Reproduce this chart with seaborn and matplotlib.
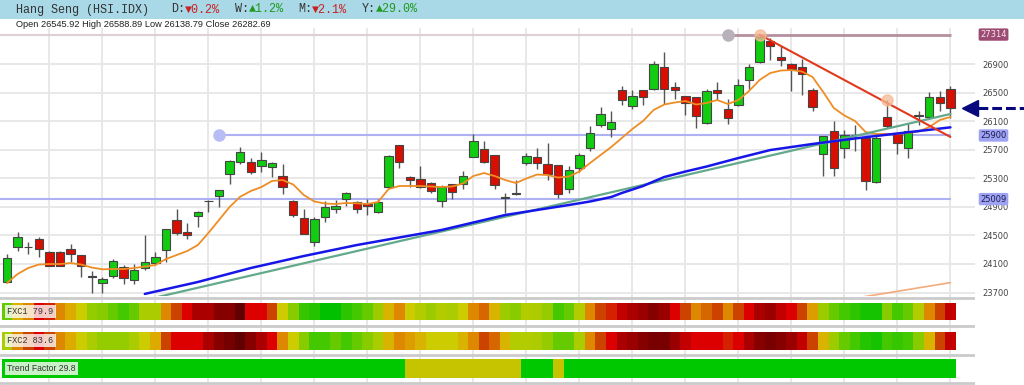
import numpy as np
import matplotlib
matplotlib.use("Agg")
import matplotlib.pyplot as plt
import seaborn as sns
from matplotlib.colors import LinearSegmentedColormap, ListedColormap
from matplotlib.transforms import blended_transform_factory

# ---------------- data ----------------
opens = [23851, 24342, 24342, 24450, 24268, 24268, 24305, 24225, 23925, 23829,
         23935, 24057, 23875, 24039, 24109, 24296, 24716, 24548, 24772, 24986,
         25048, 25356, 25528, 25528, 25472, 25463, 25336, 24986, 24748, 24408,
         24754, 24870, 25006, 24972, 24936, 24832, 25182, 25767, 25314, 25297,
         25241, 24982, 25216, 25220, 25603, 25710, 25626, 25042, 25090, 25510,
         25594, 25496, 25486, 25146, 25440, 25724, 26051, 25995, 26533, 26309,
         26533, 26551, 26859, 26575, 26449, 26435, 26075, 26541, 26275, 26323,
         26681, 26925, 27219, 26999, 26906, 26859, 26533, 25645, 25967, 25724,
         25905, 25865, 25248, 26159, 25935, 25724, 26178, 26159, 26439, 26545.92]
highs = [24235, 24543, 24412, 24473, 24275, 24280, 24375, 24230, 24006, 23921,
         24165, 24085, 24095, 24506, 24272, 24590, 24870, 24678, 24840, 24996,
         25140, 25550, 25743, 25580, 25664, 25525, 25496, 24990, 24866, 24758,
         24982, 24996, 25112, 24978, 25006, 25010, 25620, 25772, 25332, 25472,
         25252, 25206, 25222, 25406, 25921, 25827, 25630, 25090, 25276, 25650,
         25720, 25790, 25490, 25472, 25654, 26028, 26295, 26247, 26589, 26533,
         26540, 26939, 27065, 26649, 26455, 26440, 26555, 26649, 26415, 26695,
         26901, 27314, 27266, 27149, 26912, 26976, 26565, 25895, 26099, 25981,
         26051, 25870, 25888, 26401, 25940, 26075, 26247, 26505, 26519, 26588.89]
lows = [23833, 24286, 24239, 24197, 24070, 24070, 24132, 23921, 23697, 23697,
        23899, 23819, 23819, 24015, 24085, 24132, 24506, 24445, 24622, 24832,
        24902, 25220, 25496, 25356, 25393, 25322, 25080, 24754, 24515, 24352,
        24692, 24810, 24912, 24810, 24786, 24814, 25178, 25440, 25174, 25160,
        25090, 24894, 25006, 25146, 25594, 25510, 25146, 24810, 25066, 25486,
        25426, 25276, 25020, 25090, 25388, 25678, 26015, 25874, 26331, 26275,
        26331, 26541, 26341, 26415, 26183, 26005, 26065, 26401, 26065, 26309,
        26551, 26915, 26962, 26869, 26519, 26471, 26239, 25336, 25328, 25584,
        25678, 25140, 25240, 26005, 25645, 25584, 26051, 26145, 26239, 26138.79]
closes = [24179, 24473, 24335, 24305, 24076, 24076, 24235, 24076, 23918, 23885,
          24146, 23899, 24015, 24132, 24197, 24585, 24538, 24506, 24832, 24980,
          25132, 25542, 25664, 25393, 25561, 25519, 25182, 24782, 24520, 24730,
          24902, 24916, 25090, 24870, 24912, 24972, 25612, 25533, 25276, 25185,
          25122, 25174, 25112, 25336, 25827, 25533, 25206, 25020, 25084, 25612,
          25510, 25356, 25076, 25416, 25626, 25935, 26201, 26089, 26393, 26449,
          26439, 26906, 26551, 26541, 26355, 26169, 26519, 26495, 26145, 26611,
          26855, 27280, 27149, 26962, 26836, 26761, 26299, 25888, 25444, 25902,
          25900, 25266, 25865, 26037, 25795, 25967, 26176, 26439, 26355, 26282.69]

ma_fast = [23833, 23959, 24043, 24092, 24099, 24099, 24113, 24092, 24050, 24025,
           24029, 24029, 24043, 24064, 24085, 24169, 24225, 24281, 24365, 24534,
           24716, 24898, 25042, 25122, 25178, 25262, 25276, 25213, 25066, 24975,
           24947, 24940, 24954, 24950, 24940, 24968, 25150, 25192, 25192, 25192,
           25185, 25178, 25185, 25227, 25332, 25374, 25332, 25276, 25234, 25297,
           25353, 25346, 25311, 25325, 25395, 25514, 25626, 25738, 25865, 25991,
           26103, 26257, 26334, 26362, 26383, 26334, 26355, 26397, 26341, 26397,
           26523, 26677, 26775, 26810, 26817, 26796, 26719, 26509, 26285, 26180,
           26103, 25949, 25921, 25921, 25921, 25935, 25956, 26019, 26117, 26159]

ma_slow_idx = [13, 18, 23, 28, 33, 41, 47, 50, 53, 55, 57, 58, 60, 62, 64, 66, 69, 72,
               76, 80, 84, 89]
ma_slow = [23680, 23847, 24043, 24211, 24365, 24576, 24786, 24856, 24926, 24975,
           25038, 25094, 25192, 25318, 25395, 25465, 25584, 25696, 25781, 25858,
           25928, 26014]

trend_idx = [13, 89]
trend_vals = [23595, 26201]
lower_idx = [80, 89]
lower_vals = [23620, 23838]
resist_idx = [71, 89]
resist_vals = [27314, 25880]
touch_idx = [71, 83]

level_top, level_top_from = 27314, 68
level_mid, level_mid_from = 25900, 20
level_low = 25009

yticks = [23700, 24100, 24500, 24900, 25300, 25700, 26100, 26500, 26900]

fxc1 = [20, 45, 55, 75, 70, 55, 47, 40, 28, 25, 20, 15, 20, 33, 33, 55, 65, 75, 85, 85,
        92, 92, 100, 75, 75, 65, 40, 25, 12, 8, 0, 0, 10, 15, 20, 30, 45, 55, 40, 35,
        30, 35, 33, 40, 55, 60, 45, 30, 25, 35, 33, 28, 15, 20, 35, 55, 65, 70, 80, 85,
        88, 92, 88, 75, 65, 55, 60, 65, 55, 65, 75, 85, 88, 80, 75, 65, 50, 30, 20, 15,
        10, 5, 5, 25, 15, 20, 35, 55, 65, 80]
fxc2 = [33, 55, 65, 75, 65, 55, 47, 40, 33, 28, 28, 28, 33, 40, 47, 65, 75, 75, 75, 85,
        92, 96, 100, 92, 85, 75, 55, 40, 25, 15, 15, 20, 15, 20, 25, 33, 45, 55, 50, 45,
        40, 40, 40, 45, 55, 65, 60, 45, 35, 35, 33, 28, 20, 20, 33, 55, 65, 75, 85, 88,
        92, 95, 95, 88, 80, 75, 75, 75, 70, 75, 85, 92, 95, 92, 88, 80, 65, 45, 30, 20,
        15, 8, 5, 15, 12, 15, 25, 45, 65, 80]
trend_state = "G" * 38 + "Y" * 11 + "G" * 3 + "Y" + "G" * 37

title = "Hang Seng (HSI.IDX)"
changes = [("D:", "▼0.2%", "#cc2020"), ("W:", "▲1.2%", "#1f9a1f"),
           ("M:", "▼2.1%", "#cc2020"), ("Y:", "▲29.0%", "#1f9a1f")]
ohlc_line = "Open 26545.92 High 26588.89 Low 26138.79 Close 26282.69"
fxc1_label, fxc2_label, tf_label = "FXC1 79.9", "FXC2 83.6", "Trend Factor 29.8"

# ---------------- layout ----------------
sns.set_theme(style="white")
plt.rcParams['font.family'] = ['DejaVu Sans']

W, H = 1024, 385
fig = plt.figure(figsize=(W / 100, H / 100), dpi=100)
fig.patch.set_facecolor("white")


def fx(px):
    return px / W


def fy(py):
    return 1 - py / H


n = len(closes)
xs = np.arange(n)
step = 10.6
xl = -7 / step
xr = xl + 975 / step

# header
fig.patches.append(plt.Rectangle((0, fy(19)), 1, 19 / H, transform=fig.transFigure,
                                 facecolor="#a9d8e7", edgecolor="none", zorder=0))
cw = 7.05
mono = ['Liberation Mono', 'DejaVu Sans Mono']
fig.text(fx(16), fy(9.5), title, family=mono, fontsize=8.5, color="#333333", va="center")
col = 22
for lab, val, c in changes:
    fig.text(fx(16 + col * cw), fy(9.5), lab, family=mono, fontsize=8.5, color="#333333", va="center")
    fig.text(fx(16 + (col + 2) * cw), fy(9.5), val, family=mono, fontsize=8.5, color=c, va="center")
    col += 9
fig.text(fx(16), fy(24.5), ohlc_line, family=['Liberation Sans', 'DejaVu Sans'],
         fontsize=6.7, color="#222222", va="center")

# background axes: vertical grid + separators
bg = fig.add_axes([0, fy(385), 975 / W, (385 - 28) / H])
bg.set_xlim(xl, xr)
bg.set_ylim(385, 28)
bg.axis("off")
for g in range(4, n, 5):
    bg.axvline(g, color="#e6e6e6", lw=1.3, zorder=0)
for yy in [297.5, 326, 354.5, 383]:
    bg.axhline(yy, color="#cbcbcb", lw=2, zorder=1)

# main price axes
ax = fig.add_axes([0, fy(296), 975 / W, 268 / H], facecolor="none")
ax.set_xlim(xl, xr)
ax.set_ylim(23651, 27406)
for s in ax.spines.values():
    s.set_visible(False)
ax.set_xticks([])
ax.set_yticks(yticks)
ax.yaxis.tick_right()
ax.tick_params(axis="y", length=0, pad=5, labelsize=6, labelcolor="#444444")
ax.grid(axis="y", color="#e6e6e6", lw=1.3)
ax.grid(axis="x", visible=False)
ax.set_axisbelow(True)

# horizontal levels
ax.hlines(level_top, xl, level_top_from, color="#ddd0d6", lw=1.5, zorder=1)
ax.hlines(level_top, level_top_from, n - 0.9, color="#b4909f", lw=2, zorder=1)
ax.hlines(level_mid, level_mid_from, n - 0.9, color="#aeb2f2", lw=1.5, zorder=1)
ax.hlines(level_low, xl, n - 0.9, color="#aeb2f2", lw=1.5, zorder=1)
ax.plot([level_top_from], [level_top], "o", ms=8, color="#b9b1b9", zorder=2)
ax.plot([level_mid_from], [level_mid], "o", ms=8, color="#b9bdf5", zorder=2)

# candles
o = np.array(opens, dtype=float)
c = np.array(closes, dtype=float)
up = c >= o
ax.vlines(xs, lows, highs, color="#555555", lw=1.0, zorder=3)
ax.bar(xs, np.maximum(np.abs(c - o), 6), bottom=np.minimum(o, c), width=0.8,
       color=np.where(up, "#11cc11", "#d80e00"), edgecolor="#454545", linewidth=0.8, zorder=4)

# lines
sns.lineplot(x=xs, y=ma_fast, ax=ax, color="#ee8d24", lw=1.3, zorder=5)
sns.lineplot(x=trend_idx, y=trend_vals, ax=ax, color="#63a98c", lw=1.6, zorder=5)
sns.lineplot(x=ma_slow_idx, y=ma_slow, ax=ax, color="#1616e8", lw=1.8, zorder=6)
sns.lineplot(x=lower_idx, y=lower_vals, ax=ax, color="#f4aa7c", lw=1.2, zorder=5)
sns.lineplot(x=resist_idx, y=resist_vals, ax=ax, color="#e2381c", lw=1.5, zorder=6)
ax.plot(touch_idx, [highs[i] for i in touch_idx], "o", ms=8, color="#f6b894", alpha=0.75, zorder=7)
ax.set_xlim(xl, xr)
ax.set_ylim(23651, 27406)

# right labels with boxes
tr = blended_transform_factory(ax.transAxes, ax.transData)
ax.text(1.019, level_top, str(level_top), transform=tr, ha="center", va="center", fontsize=6,
        color="#f6e8ef", bbox=dict(boxstyle="round,pad=0.2", fc="#9c4c72", ec="none"))
for lv in (level_mid, level_low):
    ax.text(1.019, lv, str(lv), transform=tr, ha="center", va="center", fontsize=6,
            color="#1c1c50", bbox=dict(boxstyle="round,pad=0.2", fc="#9ea2f2", ec="none"))

# arrow for last close
ax.plot([0.9944], [closes[-1]], marker="<", ms=11.5, color="#08087e", transform=tr,
        clip_on=False, zorder=8)
ax.plot([1.003, 1.052], [closes[-1], closes[-1]], color="#08087e", lw=2.2,
        dashes=(3.2, 1.3), transform=tr, clip_on=False, zorder=8)

# heat rows
cmap_fxc = LinearSegmentedColormap.from_list("fxc", [
    (0.0, "#00c000"), (0.15, "#44c800"), (0.25, "#88cc00"), (0.33, "#aacc00"),
    (0.40, "#cccc00"), (0.47, "#ddaa00"), (0.55, "#dd8800"), (0.65, "#cc4400"),
    (0.75, "#dd0000"), (0.85, "#aa0000"), (0.92, "#880000"), (1.0, "#600000")])


def heat_row(values, top, bottom, cmap, vmin, vmax, label, family, fs):
    hax = fig.add_axes([fx(1.7), fy(bottom), (955.7 - 1.7) / W, (bottom - top) / H])
    sns.heatmap(np.array([values], dtype=float), ax=hax, cmap=cmap, vmin=vmin, vmax=vmax,
                cbar=False, xticklabels=False, yticklabels=False)
    hax.text(0.53, 0.5, label, family=family, fontsize=fs, color="#333333", va="center",
             ha="left", bbox=dict(boxstyle="square,pad=0.25", fc="white", ec="none", alpha=0.78))
    return hax


heat_row(fxc1, 303, 320, cmap_fxc, 0, 100, fxc1_label, mono, 6.2)
heat_row(fxc2, 331.5, 349.5, cmap_fxc, 0, 100, fxc2_label, mono, 6.2)
tf_vals = [1 if s == "G" else 0 for s in trend_state]
heat_row(tf_vals, 358.5, 378, ListedColormap(["#c6c400", "#00c800"]), 0, 1, tf_label,
         ['Liberation Sans', 'DejaVu Sans'], 6.2)

fig.savefig("out.png", dpi=100)
